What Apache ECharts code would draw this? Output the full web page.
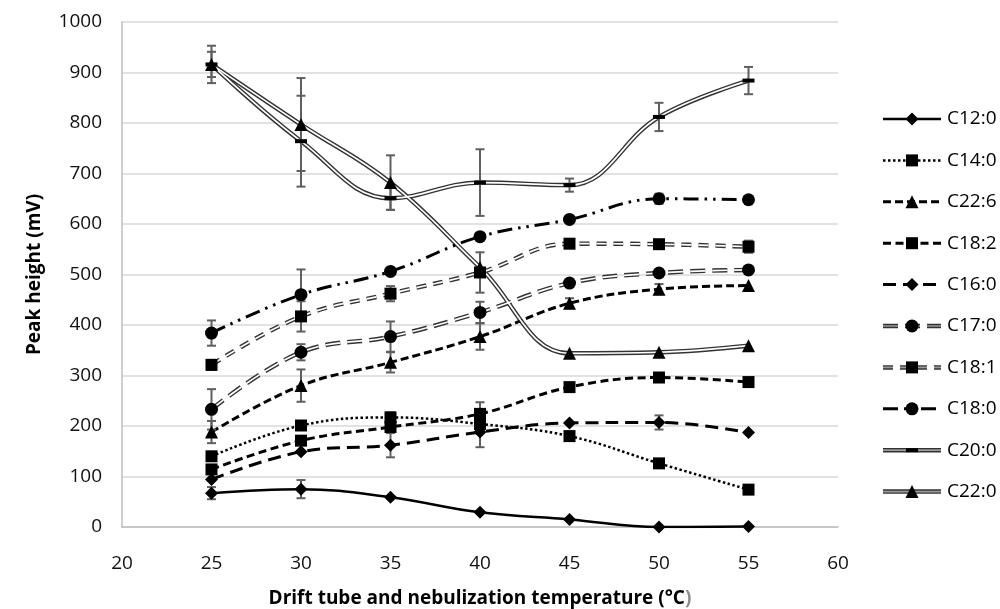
<!DOCTYPE html>
<html><head><meta charset="utf-8">
<script src="https://cdn.jsdelivr.net/npm/echarts@6/dist/echarts.min.js"></script>
<style>html,body{margin:0;padding:0;background:#fff}#c{width:1000px;height:609px}</style>
</head><body><div id="c"></div>
<script>
// ---------- data ----------
const temps = [25, 30, 35, 40, 45, 50, 55];
const seriesNames = ['C12:0','C14:0','C22:6','C18:2','C16:0','C17:0','C18:1','C18:0','C20:0','C22:0'];

const C12_0 = [67, 75, 59, 29, 15, 0, 1];
const C14_0 = [140, 201, 217, 204, 180, 126, 74];
const C22_6 = [188, 280, 326, 377, 443, 471, 478];
const C18_2 = [114, 171, 198, 224, 277, 296, 287];
const C16_0 = [94, 149, 162, 188, 206, 207, 187];
const C17_0 = [233, 346, 377, 425, 483, 503, 509];
const C18_1 = [321, 417, 462, 504, 561, 560, 555];
const C18_0 = [384, 460, 506, 575, 609, 650, 648];
const C20_0 = [916, 764, 651, 682, 677, 812, 884];
const C22_0 = [916, 797, 682, 514, 344, 346, 359];

// symmetric error (± mV)
const err_C12_0 = [12, 18, 0, 0, 0, 0, 0];
const err_C14_0 = [0, 0, 10, 0, 0, 0, 0];
const err_C22_6 = [22, 32, 20, 26, 10, 10, 0];
const err_C18_2 = [0, 0, 0, 23, 0, 0, 0];
const err_C16_0 = [0, 0, 24, 30, 0, 14, 0];
const err_C17_0 = [40, 16, 30, 21, 0, 0, 0];
const err_C18_1 = [10, 30, 15, 40, 0, 0, 12];
const err_C18_0 = [25, 50, 0, 0, 0, 10, 0];
const err_C20_0 = [37, 90, 23, 66, 13, 28, 27];
const err_C22_0 = [25, 92, 54, 0, 0, 0, 0];

const values = [C12_0, C14_0, C22_6, C18_2, C16_0, C17_0, C18_1, C18_0, C20_0, C22_0];
const errors = [err_C12_0, err_C14_0, err_C22_6, err_C18_2, err_C16_0, err_C17_0, err_C18_1, err_C18_0, err_C20_0, err_C22_0];

// ---------- styles ----------
const styles = [
  {dash: 'solid', w: 2.5, dbl: false, sym: 'diamond', size: 13},
  {dash: [2.5, 2.5], w: 2.5, dbl: false, sym: 'rect', size: 12},
  {dash: [8, 4], w: 3, dbl: false, sym: 'triangle', size: 13},
  {dash: [8, 4.5], w: 3, dbl: false, sym: 'rect', size: 12},
  {dash: [13, 7], w: 3, dbl: false, sym: 'diamond', size: 13},
  {dash: [15, 7], w: 4.5, dbl: true, sym: 'circle', size: 13},
  {dash: [10, 7], w: 4.5, dbl: true, sym: 'rect', size: 12},
  {dash: [15, 6, 2.5, 6, 2.5, 6], w: 3, dbl: false, sym: 'circle', size: 13},
  {dash: 'solid', w: 4.5, dbl: true, sym: 'rect', size: [12, 4]},
  {dash: 'solid', w: 4.5, dbl: true, sym: 'triangle', size: 13}
];
const SMOOTH = 0.4;
const FONT = '"Open Sans", "DejaVu Sans", sans-serif';

const series = [];
values.forEach((vals, i) => {
  const st = styles[i];
  const data = temps.map((t, k) => [t, vals[k]]);
  if (st.dbl) {
    series.push({type: 'line', data, smooth: SMOOTH, showSymbol: false, silent: true, z: 2,
      lineStyle: {color: '#333333', width: st.w, type: st.dash, cap: 'butt'}});
    series.push({type: 'line', data, smooth: SMOOTH, showSymbol: false, silent: true, z: 3,
      lineStyle: {color: '#ffffff', width: 1.7, type: st.dash, cap: 'butt'}});
  } else {
    series.push({type: 'line', data, smooth: SMOOTH, showSymbol: false, silent: true, z: 3,
      lineStyle: {color: '#000', width: st.w, type: st.dash, cap: 'butt'}});
  }
  // error bars
  const eData = [];
  temps.forEach((t, k) => { if (errors[i][k] > 0) eData.push([t, vals[k] - errors[i][k], vals[k] + errors[i][k]]); });
  series.push({type: 'custom', z: 4, silent: true, data: eData,
    renderItem: function (params, api) {
      const x = api.value(0), lo = api.value(1), hi = api.value(2);
      const p1 = api.coord([x, hi]), p2 = api.coord([x, lo]);
      const w = 4.5, s = {stroke: '#5f5f5f', lineWidth: 2};
      return {type: 'group', children: [
        {type: 'line', shape: {x1: p1[0], y1: p1[1], x2: p2[0], y2: p2[1]}, style: s},
        {type: 'line', shape: {x1: p1[0] - w, y1: p1[1], x2: p1[0] + w, y2: p1[1]}, style: s},
        {type: 'line', shape: {x1: p2[0] - w, y1: p2[1], x2: p2[0] + w, y2: p2[1]}, style: s}
      ]};
    }});
  // markers
  series.push({type: 'line', name: seriesNames[i], data, smooth: SMOOTH, z: 5, silent: true,
    symbol: st.sym, symbolSize: st.size, showSymbol: true,
    itemStyle: {color: '#000', borderWidth: 0},
    lineStyle: {opacity: 0}});
});

// ---------- legend (graphic) ----------
const graphic = [];
const LX1 = 883, LX2 = 941, LXC = 912, LTX = 947, LY0 = 119, LSTEP = 41.4;
function symGraphic(sym, size, cx, cy) {
  if (sym === 'diamond') {
    const h = size / 2;
    return {type: 'polygon', shape: {points: [[cx, cy - h], [cx + h, cy], [cx, cy + h], [cx - h, cy]]}, style: {fill: '#000'}};
  }
  if (sym === 'triangle') {
    const h = size / 2;
    return {type: 'polygon', shape: {points: [[cx, cy - h], [cx + h, cy + h], [cx - h, cy + h]]}, style: {fill: '#000'}};
  }
  if (sym === 'circle') {
    return {type: 'circle', shape: {cx, cy, r: size / 2}, style: {fill: '#000'}};
  }
  const w = Array.isArray(size) ? size[0] : size, h = Array.isArray(size) ? size[1] : size;
  return {type: 'rect', shape: {x: cx - w / 2, y: cy - h / 2, width: w, height: h}, style: {fill: '#000'}};
}
seriesNames.forEach((nm, i) => {
  const st = styles[i];
  const y = LY0 + i * LSTEP;
  const dash = st.dash === 'solid' ? null : st.dash;
  if (st.dbl) {
    graphic.push({type: 'line', silent: true, shape: {x1: LX1, y1: y, x2: LX2, y2: y}, style: {stroke: '#333333', lineWidth: st.w, lineDash: dash}});
    graphic.push({type: 'line', silent: true, shape: {x1: LX1, y1: y, x2: LX2, y2: y}, style: {stroke: '#9a9a9a', lineWidth: 1.7, lineDash: dash}});
  } else {
    graphic.push({type: 'line', silent: true, shape: {x1: LX1, y1: y, x2: LX2, y2: y}, style: {stroke: '#000', lineWidth: st.w, lineDash: dash}});
  }
  const sg = symGraphic(st.sym, st.size, LXC, y);
  sg.silent = true;
  graphic.push(sg);
  graphic.push({type: 'text', silent: true, x: LTX, y: y, style: {text: nm, fill: '#000', font: '19px ' + FONT, verticalAlign: 'middle', align: 'left'}});
});

const chart = echarts.init(document.getElementById('c'), null, {renderer: 'canvas'});
chart.setOption({
  animation: false,
  backgroundColor: '#fff',
  grid: {left: 122, right: 162, top: 22, bottom: 82, containLabel: false, outerBoundsMode: 'none'},
  xAxis: {
    type: 'value', min: 20, max: 60, interval: 5,
    name: '{t|Drift tube and nebulization temperature (°C}{g|)}',
    nameLocation: 'middle', nameGap: 62,
    nameTextStyle: {rich: {
      t: {fontFamily: FONT, fontWeight: 'bold', fontSize: 19, color: '#000'},
      g: {fontFamily: FONT, fontWeight: 'bold', fontSize: 19, color: '#8c8c8c'}
    }},
    axisLine: {show: true, lineStyle: {color: '#bfbfbf', width: 1.5}},
    axisTick: {show: false},
    splitLine: {show: false},
    axisLabel: {fontFamily: FONT, fontSize: 19, color: '#111', margin: 27, formatter: v => String(v)}
  },
  yAxis: {
    type: 'value', min: 0, max: 1000, interval: 100,
    name: 'Peak height (mV)', nameLocation: 'middle', nameGap: 78,
    nameTextStyle: {fontFamily: FONT, fontWeight: 'bold', fontSize: 19, color: '#000'},
    axisLine: {show: true, lineStyle: {color: '#bfbfbf', width: 1.5}},
    axisTick: {show: false},
    splitLine: {show: true, lineStyle: {color: '#d9d9d9', width: 1.5}},
    axisLabel: {fontFamily: FONT, fontSize: 19, color: '#111', margin: 20, formatter: v => String(v)}
  },
  series,
  graphic
});
</script>
</body></html>
